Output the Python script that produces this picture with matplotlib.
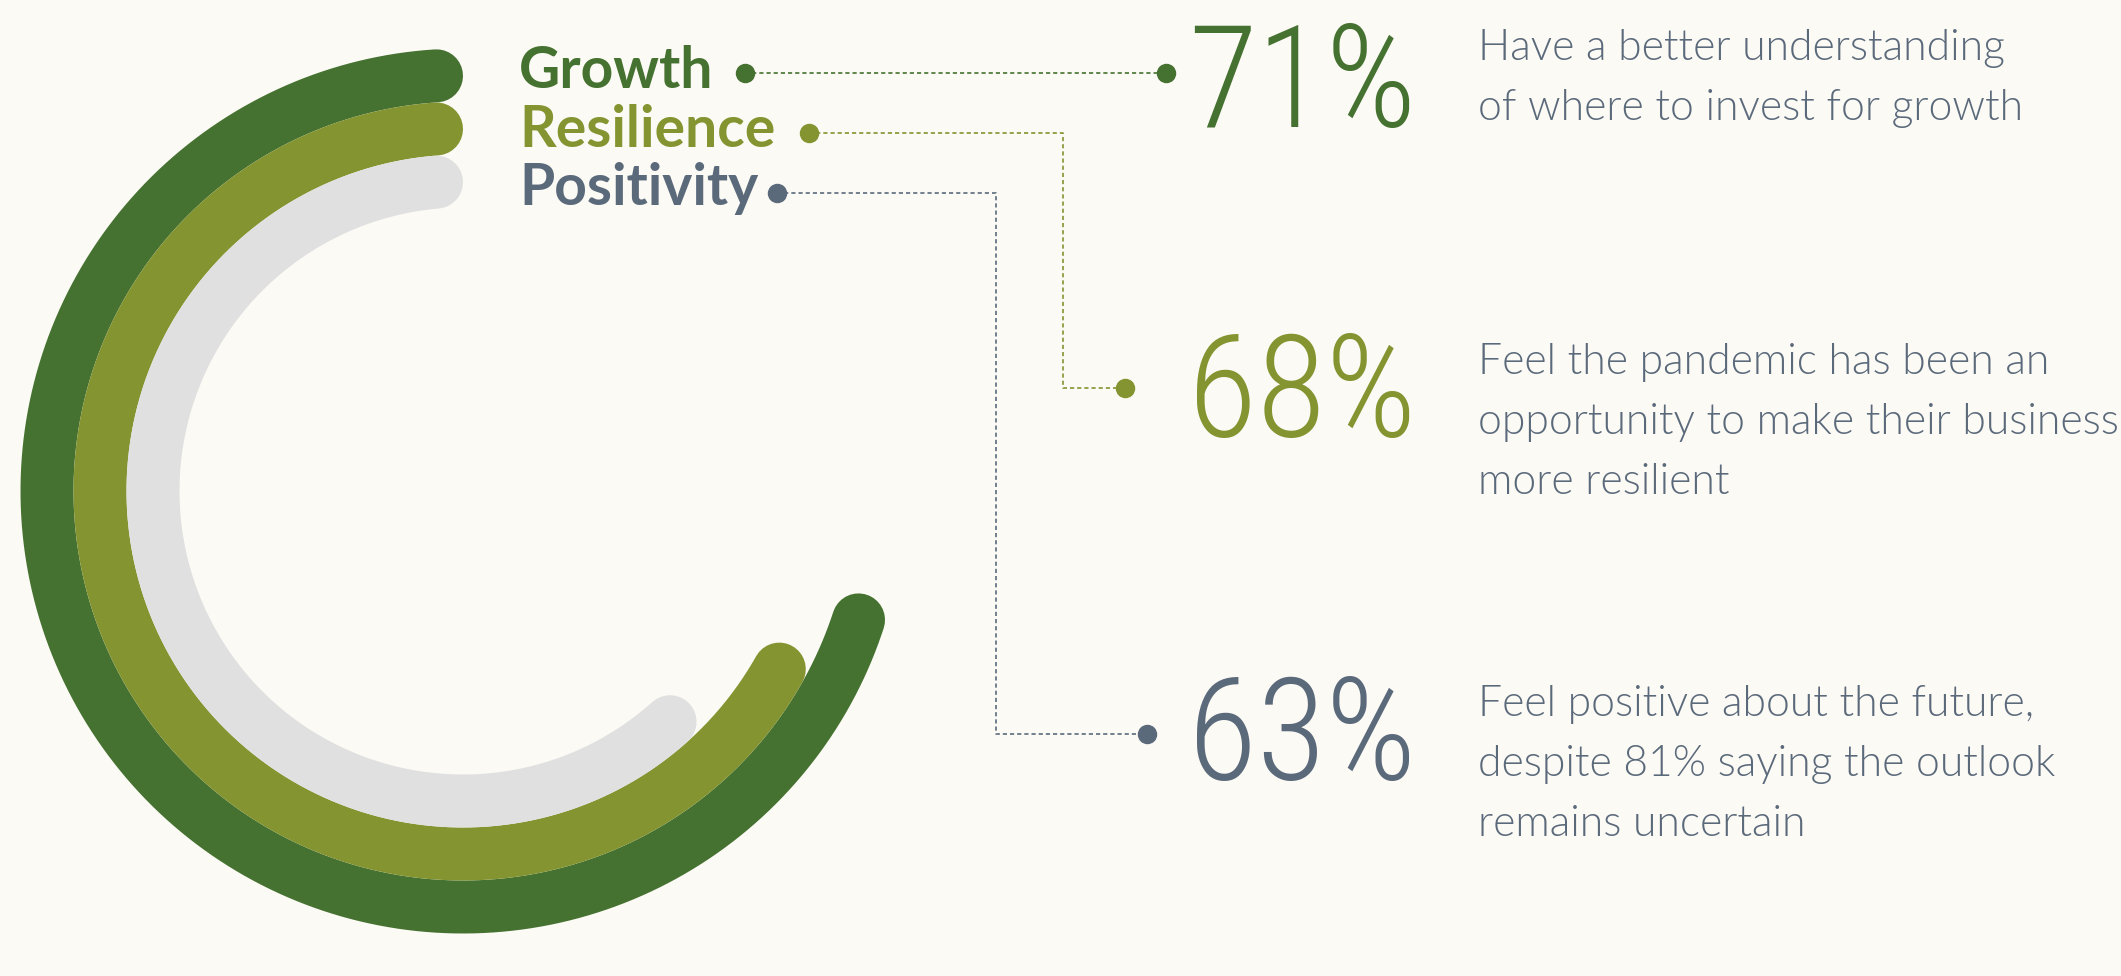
import numpy as np
import matplotlib
matplotlib.use("Agg")
import matplotlib.pyplot as plt

# ---- data ----
labels = ["Growth", "Resilience", "Positivity"]
pcts = [71, 68, 63]
pct_labels = ["71%", "68%", "63%"]
descriptions = [
    ["Have a better understanding", "of where to invest for growth"],
    ["Feel the pandemic has been an", "opportunity to make their business", "more resilient"],
    ["Feel positive about the future,", "despite 81% saying the outlook", "remains uncertain"],
]
label_colors = ["#457230", "#849430", "#5b6a7b"]
arc_colors = ["#457230", "#849430", "#e0e0e0"]
TEXT = "#5b6a7b"

BG = "#fcfaf5"
W, H = 2121, 976
fig = plt.figure(figsize=(W / 100, H / 100), dpi=100, facecolor=BG)
ax = fig.add_axes([0, 0, 1, 1])
ax.set_xlim(0, W)
ax.set_ylim(H, 0)
ax.set_aspect("equal")
ax.axis("off")
ax.set_facecolor(BG)

# ---- arcs ----
cx, cy = 463, 491
stroke = 53
radii = [416, 363, 310]
lw_pt = stroke * 72 / 100
for p, r, c in zip(pcts, radii, arc_colors):
    cap = (stroke / 2) / r
    total = p / 100 * 2 * np.pi
    start = np.pi / 2 + cap
    end = np.pi / 2 + total - cap
    t = np.linspace(start, end, 600)
    ax.plot(cx + r * np.cos(t), cy - r * np.sin(t), color=c, lw=lw_pt,
            solid_capstyle="round", zorder=2)

# ---- labels ----
label_x = 519
label_base = [88, 147, 205]
start_dots = [(745, 73), (809, 133), (777, 193)]
corner_x = [None, 1063, 996]
end_dots = [(1166, 73), (1125, 388), (1147, 734)]
for lab, col, yb in zip(labels, label_colors, label_base):
    ax.text(label_x, yb, lab, color=col, fontsize=41, fontweight=700,
            family="Lato", va="baseline", ha="left")

for (sx, sy), cxr, (ex, ey), col in zip(start_dots, corner_x, end_dots, label_colors):
    if cxr is None:
        xs, ys = [sx, ex], [sy, ey]
    else:
        xs, ys = [sx, cxr, cxr, ex], [sy, sy, ey, ey]
    ax.plot(xs, ys, color=col, lw=1.2, ls=(0, (2.5, 1.8)), zorder=3)
    ax.plot([sx, ex], [sy, ey], ls="none", marker="o", ms=13, color=col, zorder=4)

# ---- big percentages ----
pct_base = [127, 437, 780]
for t, col, yb in zip(pct_labels, label_colors, pct_base):
    ax.text(1416, yb, t, color=col, fontsize=102, fontweight=300,
            family="Roboto Condensed", fontstretch="condensed",
            va="baseline", ha="right")

# ---- descriptions ----
desc_base = [60, 374, 716]
line_gap = 60
desc_size = 31
texts = []
for lines, yb in zip(descriptions, desc_base):
    for i, line in enumerate(lines):
        texts.append(ax.text(1478, yb + i * line_gap, line, color=TEXT,
                             fontsize=desc_size, fontweight=300, family="Lato",
                             va="baseline", ha="left"))
# fit longest line to the reference width
fig.canvas.draw()
rend = fig.canvas.get_renderer()
widest = max(t.get_window_extent(rend).width for t in texts)
scale = min(1.0, 638 / widest)
for t in texts:
    t.set_fontsize(desc_size * scale)

fig.savefig("out.png", dpi=100, facecolor=BG)
